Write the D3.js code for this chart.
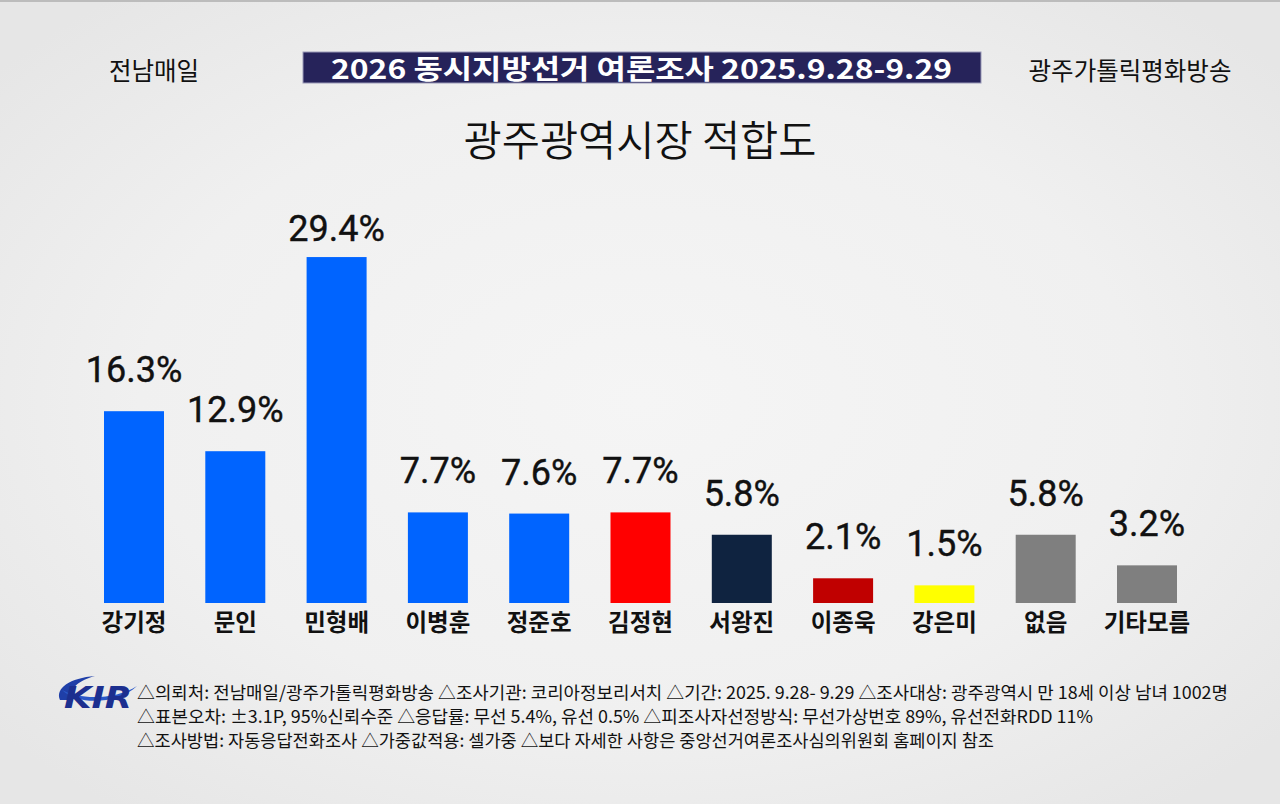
<!DOCTYPE html>
<html><head><meta charset="utf-8">
<script src="https://cdn.jsdelivr.net/npm/d3@7"></script>
<style>html,body{margin:0;padding:0;background:#ececec;overflow:hidden}svg{display:block}</style>
</head><body>
<svg id="c" width="1280" height="804"></svg>
<script>
const categories = ["강기정","문인","민형배","이병훈","정준호","김정현","서왕진","이종욱","강은미","없음","기타모름"];
const values = [16.3,12.9,29.4,7.7,7.6,7.7,5.8,2.1,1.5,5.8,3.2];
const barColors = ["#0064ff","#0064ff","#0064ff","#0064ff","#0064ff","#ff0000","#0f2340","#c00000","#ffff00","#7f7f7f","#7f7f7f"];
const headerLeft = "전남매일";
const headerRight = "광주가톨릭평화방송";
const headerBox = "2026 동시지방선거 여론조사 2025.9.28-9.29";
const title = "광주광역시장 적합도";
const footLines = [
  "△의뢰처: 전남매일/광주가톨릭평화방송 △조사기관: 코리아정보리서치 △기간: 2025. 9.28- 9.29 △조사대상: 광주광역시 만 18세 이상 남녀 1002명",
  "△표본오차: ±3.1P, 95%신뢰수준 △응답률: 무선 5.4%, 유선 0.5% △피조사자선정방식: 무선가상번호 89%, 유선전화RDD 11%",
  "△조사방법: 자동응답전화조사 △가중값적용: 셀가중 △보다 자세한 사항은 중앙선거여론조사심의위원회 홈페이지 참조"
];

const KR = "'Noto Sans CJK KR','Noto Sans',sans-serif";
const svg = d3.select("#c");
const defs = svg.append("defs");
const rg = defs.append("radialGradient").attr("id","bg").attr("cx","50%").attr("cy","50%").attr("r","65%");
rg.append("stop").attr("offset","0%").attr("stop-color","#f5f5f5");
rg.append("stop").attr("offset","60%").attr("stop-color","#f0f0f0");
rg.append("stop").attr("offset","100%").attr("stop-color","#e6e6e6");
svg.append("rect").attr("width",1280).attr("height",804).attr("fill","url(#bg)");
svg.append("line").attr("x1",0).attr("x2",1280).attr("y1",1).attr("y2",1).attr("stroke","#bcbcbc").attr("stroke-width",2);

// header
svg.append("text").attr("x",154).attr("y",80).attr("text-anchor","middle")
  .attr("font-family",KR).attr("font-size",24.5).attr("fill","#111").text(headerLeft);
svg.append("text").attr("x",1130).attr("y",80).attr("text-anchor","middle")
  .attr("font-family",KR).attr("font-size",24.5).attr("fill","#111").text(headerRight);
svg.append("rect").attr("x",303).attr("y",52).attr("width",678).attr("height",31)
  .attr("fill","#26235a").attr("stroke","#9a9ab8").attr("stroke-width",1);
svg.append("text").attr("x",331).attr("y",78.5)
  .attr("font-family",KR).attr("font-weight",700).attr("font-size",27).attr("fill","#fff")
  .attr("textLength",621).attr("lengthAdjust","spacingAndGlyphs").text(headerBox);
svg.append("text").attr("x",640).attr("y",156).attr("text-anchor","middle")
  .attr("font-family",KR).attr("font-weight",350).attr("font-size",41.5).attr("fill","#111").text(title);

// scales
const x = d3.scalePoint().domain(categories).range([134,1147]);
const y = d3.scaleLinear().domain([0,30]).range([603,250]);
const bw = 60;

const g = svg.append("g");
g.selectAll("rect.bar").data(values).join("rect").attr("class","bar")
  .attr("x",(d,i)=>x(categories[i])-bw/2).attr("width",bw)
  .attr("y",d=>y(d)).attr("height",d=>y(0)-y(d))
  .attr("fill",(d,i)=>barColors[i]);

g.selectAll("text.val").data(values).join("text").attr("class","val")
  .attr("x",(d,i)=>x(categories[i])).attr("y",d=>Math.max(y(d)-29,241))
  .attr("text-anchor","middle").attr("font-family","Roboto,'Noto Sans',sans-serif")
  .attr("font-weight",400).attr("font-size",36).attr("fill","#111")
  .attr("stroke","#111").attr("stroke-width",0.4).text(d=>d.toFixed(1)+"%");

g.selectAll("text.cat").data(categories).join("text").attr("class","cat")
  .attr("x",d=>x(d)).attr("y",631).attr("text-anchor","middle")
  .attr("font-family",KR).attr("font-weight",700).attr("font-size",23.5).attr("fill","#111").text(d=>d);

// logo
const logo = svg.append("g");
logo.append("path").attr("d","M60,700 C55,688 70,678 95,676 C80,680 68,688 72,700 Z").attr("fill","#1f3fa8");
logo.append("path").attr("d","M62,690 C80,700 115,700 137,686 C118,704 78,706 62,690 Z").attr("fill","#2a58c8");
logo.append("text").attr("x",64).attr("y",708).attr("font-family","'DejaVu Sans',sans-serif")
  .attr("font-weight",700).attr("font-style","italic").attr("font-size",30).attr("fill","#1c2f8f")
  .attr("textLength",68).attr("lengthAdjust","spacingAndGlyphs").text("KIR");

// footer
const footEnds = [1228,1093,994];
svg.selectAll("text.foot").data(footLines).join("text").attr("class","foot")
  .attr("x",137).attr("y",(d,i)=>699+i*24)
  .attr("font-family",KR).attr("font-size",17.5).attr("fill","#111")
  .attr("textLength",(d,i)=>footEnds[i]-137).attr("lengthAdjust","spacingAndGlyphs").text(d=>d);
</script>
</body></html>
